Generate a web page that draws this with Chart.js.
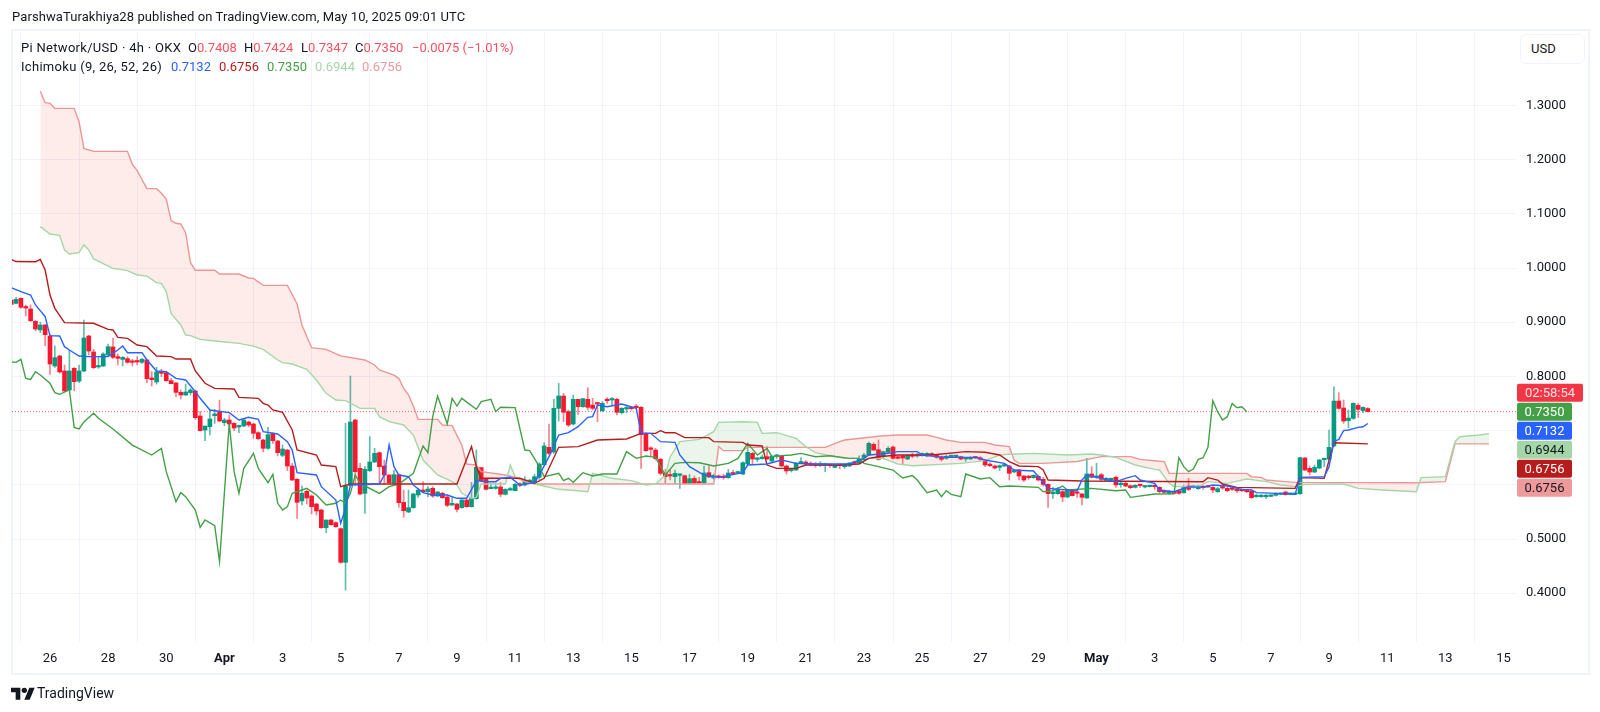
<!DOCTYPE html>
<html>
<head>
<meta charset="utf-8">
<title>Pi Network/USD</title>
<script src="https://cdn.jsdelivr.net/npm/chart.js@4"></script>
<style>
  html, body { margin: 0; padding: 0; background: #fff; }
  body { width: 1600px; height: 712px; position: relative; overflow: hidden; font-family: Roboto, sans-serif; color: #131722; }
  #frame { position: absolute; left: 11px; top: 29px; width: 1575px; height: 642px; border: 2px solid #f0f3fa; }
  #mainChart { position: absolute; left: 0; top: 0; }
  .t { position: absolute; font-size: 13px; line-height: 16px; white-space: nowrap; }
  .r { color: #f7525f; }
  .w { letter-spacing: .3px; }
  #usd { position: absolute; left: 1520px; top: 34px; width: 63px; height: 28px; border: 1px solid #f0f3fa; border-radius: 6px; font-size: 13px; line-height: 28px; text-indent: 10px; background: #fff; }
  #logo { position: absolute; left: 11px; top: 685px; }
</style>
</head>
<body>
<div id="frame"></div>
<canvas id="mainChart" width="1600" height="712"></canvas>

<div class="t" style="left:12px;top:9px;letter-spacing:.09px">ParshwaTurakhiya28 published on TradingView.com, May 10, 2025 09:01 UTC</div>

<div class="t w" style="left:21px;top:40px">Pi Network/USD · 4h · OKX</div>
<div class="t" style="left:188px;top:40px">O<span class="r">0.7408</span></div>
<div class="t" style="left:244px;top:40px">H<span class="r">0.7424</span></div>
<div class="t" style="left:301px;top:40px">L<span class="r">0.7347</span></div>
<div class="t" style="left:355px;top:40px">C<span class="r">0.7350</span></div>
<div class="t r" style="left:412px;top:40px">−0.0075 (−1.01%)</div>

<div class="t w" style="left:21px;top:59px">Ichimoku (9, 26, 52, 26)</div>
<div class="t" style="left:171px;top:59px;color:#2962ff">0.7132</div>
<div class="t" style="left:219px;top:59px;color:#b71c1c">0.6756</div>
<div class="t" style="left:267px;top:59px;color:#43a047">0.7350</div>
<div class="t" style="left:315px;top:59px;color:#a5d6a7">0.6944</div>
<div class="t" style="left:362px;top:59px;color:#ef9a9a">0.6756</div>

<div id="usd">USD</div>

<svg id="logo" width="24" height="16" viewBox="0 0 36 24"><path fill="#131722" d="M14 22H7V11H0V4h14v18zM28 22h-8l7.5-18h8L28 22z"/><circle fill="#131722" cx="20" cy="8" r="4"/></svg>
<div class="t" style="left:37px;top:685px;font-size:14px">TradingView</div>

<script>
// 4h bars, bar 0 = Mar 26 00:00. first candle is bar -8
const firstBar = -8;

const tickLabels = ['26', '28', '30', 'Apr', '3', '5', '7', '9', '11', '13', '15', '17', '19', '21', '23', '25', '27', '29', 'May', '3', '5', '7', '9', '11', '13', '15'];
const priceTicks = [1.3, 1.2, 1.1, 1.0, 0.9, 0.8, 0.7, 0.6, 0.5, 0.4];

const opens = [
  .9410, .9348, .9441, .9272, .9244, .9016, .8857, .8949,
  .8746, .8192, .8377, .8100, .7750, .8149, .7915, .8100, .8746, .8451,
  .8174, .8192, .8395, .8543, .8365, .8315, .8328, .8272, .8278, .8260,
  .8303, .7971, .7897, .8069, .8069, .7922, .7879, .7706, .7657, .7700,
  .7731, .7270, .7011, .7073, .7276, .7344, .7147, .7196, .7134, .7067,
  .7085, .7159, .7122, .6962, .6827, .6673, .6950, .6809, .6544, .6642,
  .6347, .6101, .5702, .5880, .5794, .5646, .5535, .5210, .5351, .5302,
  .5191, .4570, .5990, .7196, .6304, .5843, .6261, .6421, .6593, .6347,
  .6181, .6027, .6187, .5677, .5499, .5579, .5812, .5904, .5874, .5935,
  .5794, .5843, .5775, .5628, .5646, .5579, .5720, .5597, .5745, .6317,
  .6107, .5929, .5935, .5960, .5825, .5904, .5892, .6009, .5997, .6058,
  .6046, .6138, .6372, .6692, .6606, .7411, .7639, .7350, .7122, .7577,
  .7442, .7577, .7473, .7503, .7368, .7565, .7565, .7577, .7331, .7399,
  .7424, .7442, .7430, .6950, .6660, .6642, .6470, .6224, .6175, .6150,
  .6175, .6168, .6027, .6119, .6045, .6039, .6224, .6125, .6162, .6150,
  .6132, .6224, .6218, .6199, .6384, .6580, .6470, .6482, .6519, .6439,
  .6525, .6531, .6347, .6261, .6273, .6402, .6421, .6396, .6384, .6365,
  .6359, .6365, .6322, .6365, .6335, .6347, .6408, .6402, .6464, .6550,
  .6747, .6648, .6519, .6599, .6697, .6519, .6532, .6476, .6538, .6532,
  .6538, .6532, .6569, .6550, .6513, .6489, .6520, .6520, .6520, .6476,
  .6476, .6507, .6501, .6452, .6378, .6347, .6323, .6347, .6347, .6237,
  .6273, .6163, .6151, .6132, .6157, .6101, .6009, .5837, .5837, .5874,
  .5775, .5892, .5855, .5831, .5757, .6200, .6138, .6187, .6083, .6095,
  .6138, .6003, .6027, .5984, .5954, .5997, .5960, .5966, .5972, .5954,
  .5874, .5843, .5879, .5892, .5855, .5978, .5953, .5929, .5972, .5972,
  .5953, .5873, .5953, .5935, .5929, .5916, .5904, .5892, .5886, .5781,
  .5781, .5781, .5787, .5806, .5824, .5867, .5824, .5824, .5836, .6494,
  .6304, .6236, .6310, .6464, .6476, .6716, .7546, .7417, .7183, .7226,
  .7466, .7368, .7408
];
const highs = [
  .9425, .9459, .9450, .9318, .9318, .9030, .8998, .8960,
  .8770, .8561, .8390, .8211, .8487, .8165, .8211, .9041, .8760, .8500,
  .8365, .8438, .8598, .8703, .8414, .8365, .8365, .8315, .8365, .8334,
  .8320, .8088, .8168, .8131, .8088, .7965, .7890, .7750, .7860, .7780,
  .7745, .7350, .7085, .7393, .7393, .7565, .7227, .7288, .7147, .7104,
  .7208, .7177, .7140, .6981, .6840, .7061, .6965, .6820, .6735, .6655,
  .6397, .6115, .5978, .5904, .5812, .5660, .5550, .5351, .5363, .5315,
  .5205, .7134, .8008, .7210, .6397, .6335, .6888, .6673, .6605, .6458,
  .6190, .6273, .6200, .5904, .5904, .5845, .5935, .6058, .5966, .5966,
  .5874, .5861, .5812, .5781, .5660, .5732, .5732, .6046, .6642, .6323,
  .6120, .6027, .6027, .6040, .5929, .5954, .6027, .6040, .6150, .6100,
  .6193, .6409, .6778, .7122, .7577, .7872, .7688, .7381, .7657, .7577,
  .7596, .7793, .7596, .7516, .7534, .7608, .7608, .7596, .7424, .7473,
  .7440, .7485, .7445, .6962, .6703, .6673, .6488, .6285, .6273, .6273,
  .6199, .6181, .6193, .6162, .6138, .6347, .6347, .6199, .6181, .6199,
  .6285, .6273, .6236, .6427, .6765, .6599, .6501, .6550, .6704, .6537,
  .6562, .6544, .6365, .6285, .6414, .6501, .6445, .6427, .6414, .6427,
  .6396, .6384, .6365, .6384, .6384, .6414, .6439, .6537, .6580, .6790,
  .6777, .6827, .6624, .6704, .6716, .6530, .6550, .6556, .6587, .6580,
  .6590, .6593, .6593, .6563, .6532, .6550, .6545, .6544, .6532, .6507,
  .6520, .6520, .6520, .6470, .6409, .6366, .6366, .6396, .6360, .6261,
  .6286, .6175, .6175, .6187, .6181, .6138, .6020, .5954, .5954, .5892,
  .5917, .5917, .5874, .5843, .6489, .6335, .6397, .6212, .6138, .6120,
  .6163, .6058, .6058, .5997, .6003, .6009, .5978, .5980, .5991, .5965,
  .5905, .5892, .5890, .5916, .5996, .6119, .5980, .5990, .5984, .5980,
  .5966, .5953, .5978, .5953, .5941, .5929, .5916, .5916, .5904, .5830,
  .5818, .5818, .5810, .5855, .5850, .5880, .5840, .5843, .6512, .6507,
  .6347, .6365, .6470, .6488, .7011, .7810, .7700, .7565, .7380, .7515,
  .7503, .7441, .7424
];
const lows = [
  .9320, .9336, .9256, .9115, .9010, .8844, .8807, .8567,
  .8039, .8168, .8060, .7719, .7737, .7737, .7885, .8088, .8395, .8143,
  .8149, .8180, .8365, .8328, .8211, .8192, .8242, .8192, .8211, .8242,
  .7885, .7823, .7860, .7995, .7909, .7860, .7626, .7583, .7651, .7657,
  .7208, .6993, .6815, .6919, .7134, .7165, .7091, .7073, .7000, .6962,
  .7073, .7073, .6858, .6827, .6606, .6655, .6765, .6532, .6519, .6261,
  .6077, .5382, .5628, .5646, .5462, .5443, .5197, .5117, .5253, .5216,
  .4551, .4060, .5978, .5997, .5812, .5474, .6243, .6409, .6027, .6015,
  .6027, .6015, .5585, .5400, .5486, .5566, .5769, .5861, .5781, .5769,
  .5781, .5751, .5597, .5615, .5499, .5566, .5585, .5585, .5732, .6058,
  .5904, .5929, .5917, .5781, .5812, .5892, .5886, .5966, .5978, .6040,
  .6027, .6101, .6360, .6550, .6581, .7177, .7165, .7073, .7104, .7301,
  .7430, .7381, .7381, .7165, .7350, .7503, .7473, .7288, .7307, .7331,
  .7380, .7399, .6304, .6618, .6537, .6457, .6181, .6027, .6089, .6027,
  .5935, .6015, .6015, .6015, .6027, .6027, .6132, .6101, .6119, .6101,
  .6119, .6187, .6212, .6187, .6365, .6384, .6427, .6470, .6470, .6427,
  .6488, .6335, .6199, .6236, .6267, .6396, .6365, .6347, .6322, .6335,
  .6242, .6322, .6310, .6298, .6304, .6335, .6384, .6396, .6445, .6537,
  .6630, .6457, .6476, .6593, .6476, .6480, .6384, .6464, .6498, .6510,
  .6530, .6525, .6520, .6489, .6440, .6470, .6510, .6507, .6458, .6433,
  .6470, .6483, .6452, .6335, .6335, .6292, .6261, .6335, .6089, .6224,
  .6089, .6058, .6101, .6120, .6071, .5978, .5585, .5751, .5825, .5689,
  .5763, .5794, .5769, .5628, .5751, .6126, .6120, .6077, .6071, .6077,
  .5954, .5954, .5966, .5929, .5941, .5954, .5941, .5960, .5917, .5855,
  .5843, .5825, .5830, .5824, .5843, .5892, .5940, .5916, .5916, .5950,
  .5855, .5861, .5916, .5873, .5892, .5855, .5873, .5855, .5750, .5769,
  .5769, .5744, .5780, .5793, .5815, .5806, .5815, .5818, .5824, .6261,
  .6181, .6224, .6298, .6335, .6458, .6704, .7392, .7134, .7054, .7208,
  .7245, .7331, .7347
];
const closes = [
  .9330, .9422, .9275, .9262, .9029, .8875, .8949, .8770,
  .8229, .8346, .8082, .7731, .8100, .7903, .8100, .8709, .8469, .8162,
  .8198, .8414, .8549, .8352, .8334, .8352, .8260, .8260, .8266, .8315,
  .7959, .7940, .8082, .8057, .7922, .7866, .7706, .7657, .7713, .7750,
  .7239, .7000, .7085, .7214, .7307, .7177, .7196, .7122, .7048, .7085,
  .7196, .7104, .6950, .6852, .6673, .6925, .6815, .6593, .6661, .6347,
  .6089, .5677, .5843, .5757, .5597, .5517, .5210, .5351, .5265, .5228,
  .4570, .5978, .7159, .6243, .5831, .6286, .6421, .6581, .6335, .6181,
  .6040, .6187, .5671, .5523, .5579, .5831, .5904, .5874, .5923, .5794,
  .5868, .5763, .5622, .5659, .5548, .5720, .5597, .5751, .6323, .6077,
  .5917, .5941, .5941, .5825, .5917, .5917, .6009, .5991, .6089, .6077,
  .6150, .6384, .6716, .6581, .7411, .7639, .7338, .7104, .7577, .7442,
  .7590, .7430, .7411, .7491, .7503, .7553, .7577, .7338, .7411, .7411,
  .7405, .7424, .6925, .6630, .6654, .6482, .6212, .6150, .6163, .6212,
  .6181, .6027, .6113, .6033, .6033, .6218, .6144, .6175, .6138, .6132,
  .6218, .6199, .6230, .6408, .6599, .6476, .6488, .6513, .6476, .6531,
  .6531, .6347, .6255, .6273, .6402, .6414, .6384, .6371, .6359, .6378,
  .6371, .6353, .6359, .6353, .6365, .6402, .6396, .6488, .6550, .6765,
  .6642, .6470, .6611, .6673, .6488, .6488, .6495, .6544, .6526, .6550,
  .6581, .6581, .6550, .6507, .6470, .6526, .6532, .6532, .6476, .6483,
  .6501, .6495, .6470, .6366, .6354, .6310, .6354, .6366, .6212, .6261,
  .6163, .6089, .6132, .6175, .6089, .6009, .5837, .5849, .5905, .5775,
  .5898, .5800, .5843, .5769, .6200, .6138, .6151, .6101, .6120, .6108,
  .5997, .6015, .5978, .5947, .5991, .5985, .5966, .5972, .5966, .5874,
  .5861, .5880, .5842, .5843, .5966, .5916, .5966, .5978, .5947, .5959,
  .5904, .5929, .5941, .5892, .5916, .5892, .5892, .5873, .5763, .5793,
  .5793, .5806, .5800, .5843, .5843, .5818, .5830, .5836, .6500, .6273,
  .6236, .6322, .6458, .6476, .6691, .7546, .7411, .7177, .7232, .7503,
  .7392, .7429, .7350
];

// [bar, price] readings of the ichimoku lines
const tenkan = [[-8,.9638],[-6,.9564],[-4,.9502],[-3,.9318],[-2,.9213],[-1,.9102],[0,.8752],[2,.8746],[3,.8549],[4,.8487],[6,.8377],[8,.8365],[12,.8365],[14,.8487],[15,.8561],[16,.8438],[19,.8438],[20,.8303],[22,.8100],[24,.8088],[26,.7965],[28,.7934],[30,.7719],[31,.7596],[33,.7380],[37,.7331],[39,.7196],[41,.7245],[43,.7208],[44,.6981],[47,.6938],[49,.6796],[50,.6642],[51,.6224],[55,.6181],[56,.5966],[59,.5720],[60,.5290],[61,.5566],[62,.5997],[68,.6015],[69,.6181],[70,.6735],[71,.6335],[72,.6181],[74,.6150],[75,.5997],[77,.5855],[79,.5812],[82,.5812],[84,.5751],[86,.5751],[88,.6077],[90,.6058],[92,.6058],[93,.6120],[95,.6138],[97,.5997],[100,.6040],[101,.6181],[103,.6519],[105,.6919],[107,.6962],[109,.7073],[111,.7245],[112,.7258],[113,.7473],[115,.7442],[118,.7491],[121,.7411],[122,.6950],[124,.6950],[126,.6796],[129,.6784],[130,.6550],[132,.6335],[135,.6181],[138,.6138],[143,.6224],[144,.6365],[148,.6384],[151,.6458],[154,.6396],[157,.6384],[165,.6384],[168,.6488],[169,.6550],[173,.6580],[175,.6612],[179,.6612],[180,.6550],[183,.6520],[186,.6507],[191,.6507],[193,.6458],[197,.6396],[199,.6273],[203,.6255],[206,.5935],[212,.5892],[213,.6089],[214,.6181],[220,.6058],[222,.6120],[224,.6169],[225,.6089],[228,.6027],[229,.5904],[232,.5873],[235,.5966],[238,.5953],[240,.5996],[243,.5978],[246,.5916],[248,.5904],[249,.5855],[253,.5843],[257,.5824],[258,.6138],[263,.6150],[264,.6335],[265,.6796],[266,.6839],[267,.6999],[268,.7011],[270,.7060],[271,.7072],[272,.7132]];

const kijun = [[-8,1.0160],[-7,1.0120],[-3,1.0117],[-2,1.0160],[-1,.9963],[0,.9502],[1,.9256],[3,.8992],[9,.8980],[12,.8869],[13,.8857],[14,.8721],[16,.8703],[18,.8580],[20,.8549],[22,.8377],[25,.8365],[26,.8321],[29,.8321],[30,.8100],[32,.7873],[34,.7780],[38,.7768],[39,.7614],[43,.7596],[44,.7504],[45,.7473],[46,.7381],[48,.7337],[50,.7011],[51,.6642],[55,.6550],[56,.6366],[59,.6335],[60,.5966],[62,.6015],[84,.6015],[87,.6704],[88,.6335],[89,.6120],[90,.6120],[97,.6120],[100,.6027],[102,.6120],[105,.6692],[109,.6704],[113,.6827],[119,.6845],[122,.6950],[125,.6950],[126,.6999],[127,.6962],[129,.6962],[131,.6870],[136,.6870],[137,.6796],[143,.6784],[144,.6734],[147,.6716],[148,.6365],[150,.6304],[154,.6304],[156,.6365],[163,.6365],[167,.6384],[169,.6488],[171,.6519],[175,.6550],[182,.6550],[189,.6612],[193,.6600],[196,.6550],[198,.6427],[200,.6347],[204,.6335],[205,.6273],[206,.6089],[213,.6071],[238,.6058],[239,.6132],[241,.6088],[242,.6015],[245,.5953],[257,.5935],[258,.6132],[263,.6119],[264,.6458],[265,.6777],[272,.6756]];

const chikou = [[-8,.8266],[-7,.8260],[-6,.8315],[-5,.7965],[-4,.7946],[-3,.8088],[-2,.8026],[0,.7873],[1,.7700],[2,.7670],[4,.7750],[5,.7060],[6,.7030],[7,.7160],[9,.7320],[10,.7227],[13,.7030],[17,.6734],[21,.6550],[23,.6673],[24,.6243],[26,.5689],[27,.5855],[28,.5781],[30,.5536],[31,.5216],[32,.5351],[34,.5246],[35,.4582],[37,.7134],[38,.6243],[39,.5843],[40,.6304],[42,.6581],[43,.6304],[45,.6040],[46,.6193],[47,.5659],[48,.5536],[49,.5597],[50,.5843],[52,.5904],[53,.5935],[55,.5812],[57,.5628],[59,.5659],[60,.5720],[61,.5659],[62,.5843],[63,.6181],[64,.6027],[68,.5843],[70,.5966],[72,.6015],[75,.6212],[77,.6716],[78,.6593],[79,.7258],[80,.7639],[82,.7122],[83,.7596],[84,.7454],[85,.7596],[88,.7393],[89,.7534],[91,.7577],[92,.7350],[93,.7430],[96,.7424],[98,.6642],[99,.6630],[101,.6335],[102,.6150],[105,.6212],[106,.6077],[107,.6120],[108,.6046],[110,.6224],[112,.6163],[114,.6200],[117,.6200],[119,.6612],[121,.6489],[123,.6532],[125,.6507],[127,.6181],[129,.6396],[131,.6414],[134,.6408],[137,.6347],[140,.6396],[142,.6488],[144,.6765],[146,.6550],[148,.6673],[149,.6519],[151,.6538],[153,.6550],[155,.6580],[158,.6519],[161,.6537],[165,.6488],[167,.6488],[168,.6396],[171,.6335],[174,.6273],[176,.6125],[178,.6170],[179,.6089],[181,.5855],[183,.5905],[184,.5781],[185,.5892],[186,.5825],[188,.5781],[189,.6200],[192,.6107],[194,.6132],[196,.5966],[198,.5978],[204,.5954],[205,.5874],[207,.5892],[209,.5978],[210,.5905],[215,.5935],[220,.5892],[222,.5905],[223,.5769],[228,.5831],[232,.5835],[233,.6500],[234,.6335],[235,.6242],[236,.6291],[237,.6470],[238,.6500],[239,.6691],[240,.7552],[241,.7349],[242,.7196],[243,.7257],[244,.7503],[245,.7423],[246,.7441],[247,.7350]];

const senkouA = [[-2,1.0763],[0,1.0628],[2,1.0603],[3,1.0333],[4,1.0259],[6,1.0283],[7,1.0425],[8,1.0333],[9,1.0167],[13,.9994],[16,.9951],[18,.9871],[20,.9850],[22,.9730],[23,.9718],[24,.9565],[25,.9164],[27,.8949],[28,.8764],[29,.8752],[31,.8684],[34,.8654],[39,.8610],[42,.8560],[44,.8500],[47,.8303],[48,.8254],[50,.8229],[53,.8131],[55,.7934],[57,.7688],[59,.7565],[61,.7553],[64,.7411],[67,.7411],[68,.7257],[70,.7165],[73,.7104],[75,.6919],[77,.6458],[80,.6181],[83,.6058],[84,.5997],[85,.5843],[87,.5751],[88,.5769],[89,.6015],[94,.6015],[95,.6366],[96,.6150],[100,.6015],[105,.5917],[107,.5904],[111,.5874],[112,.6212],[116,.6120],[120,.6077],[123,.5997],[125,.6015],[127,.6181],[128,.6519],[130,.6796],[134,.6839],[137,.6980],[138,.7152],[143,.7165],[146,.7152],[147,.6950],[150,.6962],[154,.6857],[156,.6703],[158,.6593],[161,.6537],[164,.6488],[172,.6488],[175,.6384],[178,.6353],[188,.6396],[193,.6446],[196,.6550],[198,.6563],[203,.6581],[210,.6550],[215,.6569],[217,.6550],[220,.6507],[224,.6366],[228,.6286],[229,.6273],[231,.6027],[232,.5966],[237,.5966],[239,.6058],[243,.6027],[247,.6107],[251,.6058],[254,.5996],[257,.5966],[259,.6009],[264,.6015],[267,.6015],[270,.5935],[275,.5904],[282,.5873],[283,.6132],[288,.6150],[290,.6796],[291,.6888],[295,.6919],[297,.6944]];

const senkouB = [[-2,1.3266],[-1,1.3051],[0,1.3039],[1,1.2946],[5,1.2946],[6,1.2700],[7,1.2208],[9,1.2153],[16,1.2153],[17,1.1913],[18,1.1796],[20,1.1464],[22,1.1464],[23,1.1378],[24,1.1273],[25,1.0874],[26,1.0825],[27,1.0812],[28,1.0652],[29,1.0099],[30,.9958],[34,.9958],[35,.9890],[39,.9890],[41,.9816],[42,.9810],[44,.9680],[49,.9680],[51,.9340],[52,.8950],[54,.8530],[57,.8500],[60,.8380],[65,.8303],[67,.8211],[68,.8119],[70,.8057],[71,.8025],[72,.7965],[73,.7780],[74,.7660],[75,.7450],[76,.7208],[80,.7208],[81,.7104],[83,.7092],[85,.6735],[86,.6384],[88,.6366],[89,.6243],[94,.6181],[96,.6138],[98,.6058],[100,.6015],[137,.6015],[138,.6704],[139,.6630],[143,.6630],[144,.6691],[160,.6691],[163,.6796],[164,.6826],[172,.6906],[175,.6919],[181,.6919],[183,.6876],[185,.6827],[188,.6784],[193,.6784],[195,.6735],[198,.6704],[199,.6458],[200,.6396],[205,.6396],[212,.6430],[217,.6520],[223,.6520],[225,.6470],[228,.6445],[230,.6427],[231,.6211],[247,.6211],[248,.6150],[250,.6138],[251,.6088],[255,.6058],[257,.6045],[282,.6039],[288,.6058],[290,.6756],[297,.6756]];

const lastPrice = 0.7350;
const lastLabels = [
  { text: '02:58:54', bg: '#f23645', fg: '#ffe3e6' },
  { text: '0.7350', bg: '#43a047', fg: '#ffffff' },
  { text: '0.7132', bg: '#2962ff', fg: '#ffffff' },
  { text: '0.6944', bg: '#a5d6a7', fg: '#131722' },
  { text: '0.6756', bg: '#b71c1c', fg: '#ffffff' },
  { text: '0.6756', bg: '#ef9a9a', fg: '#131722' }
];

const UP = '#089981', DOWN = '#f7182f';
const isUp = opens.map((o, i) => closes[i] >= o);

/** 본체/꼬리 막대 데이터 */
const bodyData = opens.map((o, i) => ({ x: firstBar + i, y: [o, closes[i]] }));
const wickData = opens.map((_, i) => ({ x: firstBar + i, y: [lows[i], highs[i]] }));

function lineData(rows) {
  return rows.map(r => ({ x: r[0], y: r[1] }));
}

function ichimokuLine(label, rows, color, order) {
  return {
    type: 'line', label, data: lineData(rows),
    borderColor: color, borderWidth: 1.4, pointRadius: 0, tension: 0, fill: false, order
  };
}

const xMin = -7.84, xMax = 302.58;

const datasets = [
  {
    type: 'bar', label: 'wick', data: wickData, grouped: false, order: 11, barThickness: 1,
    backgroundColor: isUp.map(u => u ? 'rgba(8,153,129,.65)' : 'rgba(247,24,47,.55)')
  },
  {
    type: 'bar', label: 'body', data: bodyData, grouped: false, order: 10, barThickness: 4, minBarLength: 1.5,
    backgroundColor: isUp.map(u => u ? UP : DOWN)
  },
  ichimokuLine('Senkou B', senkouB, '#ef9a9a', 5),
  Object.assign(ichimokuLine('Senkou A', senkouA, '#a5d6a7', 4), {
    fill: { target: 2, above: 'rgba(67,160,71,.1)', below: 'rgba(244,67,54,.1)' }
  }),
  ichimokuLine('Chikou', chikou, '#43a047', 3),
  ichimokuLine('Kijun', kijun, '#b71c1c', 2),
  ichimokuLine('Tenkan', tenkan, '#2962ff', 1),
  {
    type: 'line', label: 'last', data: [{ x: xMin, y: lastPrice }, { x: xMax, y: lastPrice }],
    borderColor: 'rgba(242,54,69,.8)', borderWidth: 1, borderDash: [1, 2], pointRadius: 0, order: 12
  }
];

// 오른쪽 가격 라벨
const lastLabelPlugin = {
  id: 'lastLabels',
  afterDraw(chart) {
    const ctx = chart.ctx;
    const base = chart.scales.y.getPixelForValue(lastPrice);
    ctx.save();
    ctx.font = '13px Roboto';
    ctx.textBaseline = 'middle';
    ctx.textAlign = 'center';
    lastLabels.forEach((l, i) => {
      const cy = base + (i - 1) * 19;
      const w = i === 0 ? 66 : 55;
      ctx.fillStyle = l.bg;
      ctx.beginPath();
      ctx.roundRect(1517, cy - 9, w, 18, 2);
      ctx.fill();
      ctx.fillStyle = l.fg;
      ctx.fillText(l.text, 1517 + w / 2, cy + 1);
    });
    ctx.restore();
  }
};

new Chart(document.getElementById('mainChart').getContext('2d'), {
  type: 'bar',
  data: { datasets },
  plugins: [lastLabelPlugin],
  options: {
    responsive: false,
    animation: false,
    events: [],
    layout: { padding: { left: 12, top: 29, right: 0, bottom: 0 } },
    plugins: { legend: { display: false }, tooltip: { enabled: false } },
    scales: {
      x: {
        type: 'linear', offset: false, min: xMin, max: xMax,
        afterBuildTicks: s => { s.ticks = tickLabels.map((_, k) => ({ value: k * 12 })); },
        afterFit: s => { s.height = 70; },
        border: { display: false },
        grid: { color: '#f0f3fa', drawTicks: false },
        ticks: {
          autoSkip: false, maxRotation: 0, padding: 9, color: '#131722',
          font: c => ({ family: 'Roboto', size: 13, weight: /[A-Z]/.test(tickLabels[c.index] || '') ? 'bold' : 'normal' }),
          callback: (v, i) => tickLabels[i]
        }
      },
      y: {
        type: 'linear', position: 'right', min: 0.31, max: 1.441,
        afterBuildTicks: s => { s.ticks = priceTicks.map(v => ({ value: v })); },
        afterFit: s => { s.width = 84; },
        border: { display: false },
        grid: { color: '#f0f3fa', drawTicks: false },
        ticks: {
          padding: 10, color: '#131722', autoSkip: false,
          font: { family: 'Roboto', size: 13 },
          callback: v => v.toFixed(4)
        }
      }
    }
  }
});
</script>
</body>
</html>
